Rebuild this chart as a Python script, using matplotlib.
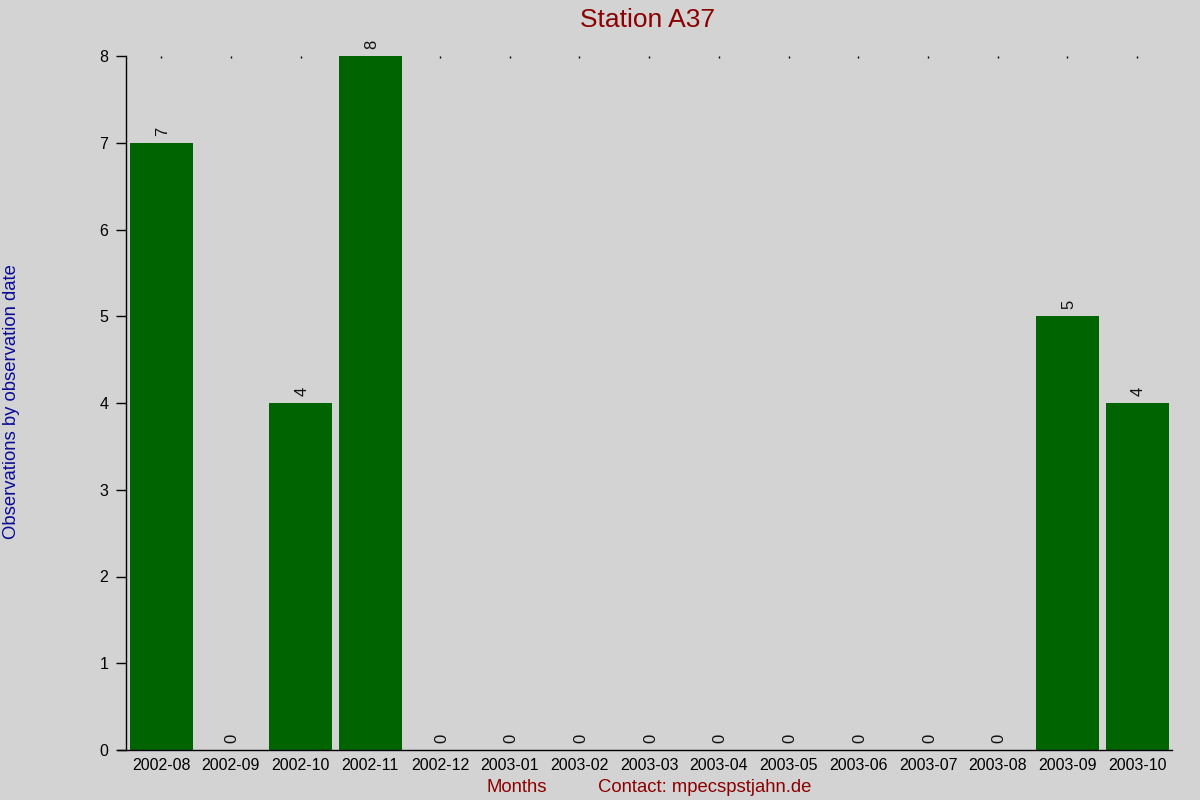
import matplotlib
matplotlib.use('Agg')
import matplotlib.pyplot as plt

# ------------------------------------ data ---------------------------------- #
months = ['2002-08', '2002-09', '2002-10', '2002-11', '2002-12', '2003-01',
          '2003-02', '2003-03', '2003-04', '2003-05', '2003-06', '2003-07',
          '2003-08', '2003-09', '2003-10']
counts = [7, 0, 4, 8, 0, 0, 0, 0, 0, 0, 0, 0, 0, 5, 4]

bg = '#d3d3d3'
plt.rcParams['font.family'] = ['Liberation Sans', 'DejaVu Sans']

fig = plt.figure(figsize=(12, 8), dpi=100, facecolor=bg)
ax = fig.add_axes([118/1200, 50/800, (1172-118)/1200, (750-56)/800])
ax.set_facecolor(bg)

x = list(range(len(months)))
ax.bar(x, counts, width=0.9, color='#006400', zorder=2)
for xi, c in zip(x, counts):
    ax.text(xi + 0.02, c + 0.08, str(c), rotation=90, ha='center',
            va='bottom', fontsize=12, color='#111111')

ax.set_xlim(-0.62, 14.5)
ax.set_ylim(0, 8)

ax.spines['top'].set_visible(False)
ax.spines['right'].set_visible(False)
ax.spines['left'].set_position(('data', -0.5))
ax.spines['left'].set_linewidth(1.0)
ax.spines['bottom'].set_linewidth(1.0)

ax.set_yticks(range(0, 9))
ax.tick_params(axis='y', length=7, width=1, labelsize=11.5, pad=6)
ax.set_xticks(x)
ax.set_xticklabels(months)
ax.tick_params(axis='x', bottom=False, top=True, length=1.2, width=1,
               labelsize=11.5, pad=6, direction='in')

fig.text(648/1200, 1 - 27/800, 'Station A37', ha='center', va='baseline',
         fontsize=19, color='#8b0000')
fig.text(12/1200, 1 - 402/800, 'Observations by observation date',
         rotation=90, ha='center', va='center', fontsize=13.3,
         color='#0a0a96')
fig.text(517/1200, 1 - 792/800, 'Months', ha='center', va='baseline',
         fontsize=13.3, color='#8b0000')
fig.text(598/1200, 1 - 792/800, 'Contact: mpecspstjahn.de', ha='left',
         va='baseline', fontsize=13.3, color='#8b0000')

plt.savefig('out.png', dpi=100, facecolor=bg)
plt.close('all')
